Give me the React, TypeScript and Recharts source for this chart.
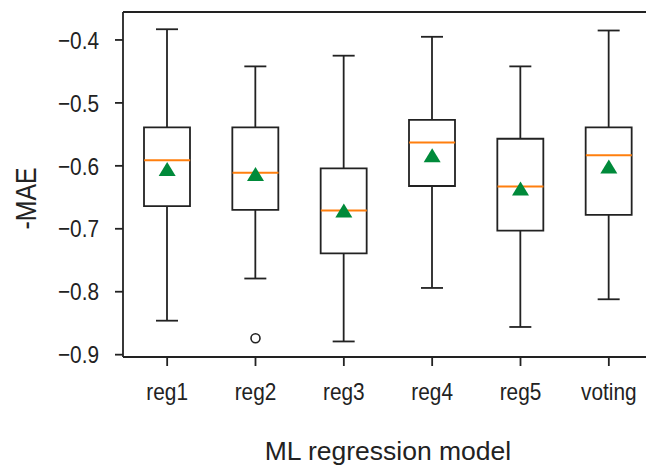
import { Bar, ComposedChart, ReferenceLine, Scatter, XAxis, YAxis } from "recharts";

const categories = ["reg1", "reg2", "reg3", "reg4", "reg5", "voting"];
const whiskerLow = [-0.846, -0.779, -0.879, -0.794, -0.856, -0.812];
const q1 = [-0.664, -0.67, -0.739, -0.632, -0.703, -0.678];
const medians = [-0.591, -0.611, -0.671, -0.563, -0.633, -0.583];
const q3 = [-0.539, -0.539, -0.604, -0.527, -0.557, -0.539];
const whiskerHigh = [-0.383, -0.442, -0.425, -0.395, -0.442, -0.385];
const means = [-0.605, -0.613, -0.671, -0.583, -0.636, -0.601];
const outliers: (number | null)[] = [null, -0.874, null, null, null, null];
const yTicks = [-0.9, -0.8, -0.7, -0.6, -0.5, -0.4];

const data = categories.map((name, i) => ({
  name,
  whisker: [whiskerLow[i], whiskerHigh[i]],
  box: [q1[i], q3[i]],
  median: medians[i],
  mean: means[i],
  outlier: outliers[i],
}));

const INK = "#222";
const SANS = "'Liberation Sans', Arial, sans-serif";
// the source figure's text is horizontally squeezed
const SQUEEZE = 0.85;

function Whisker(props: any) {
  const { x, y, width, height } = props;
  const cx = x + width / 2;
  return (
    <g stroke={INK} strokeWidth={1.8}>
      <line x1={cx} x2={cx} y1={y} y2={y + height} />
      <line x1={x} x2={x + width} y1={y} y2={y} />
      <line x1={x} x2={x + width} y1={y + height} y2={y + height} />
    </g>
  );
}

function MedianLine(props: any) {
  const { cx, cy } = props;
  return <line x1={cx - 23} x2={cx + 23} y1={cy} y2={cy} stroke="#ff7f0e" strokeWidth={2} />;
}

function MeanMarker(props: any) {
  const { cx, cy } = props;
  return <polygon points={`${cx},${cy - 7} ${cx - 8.5},${cy + 7} ${cx + 8.5},${cy + 7}`} fill="#008a3a" />;
}

function OutlierMarker(props: any) {
  const { cx, cy, payload } = props;
  if (payload?.outlier == null || !Number.isFinite(cy)) return <g />;
  return <circle cx={cx} cy={cy} r={4.5} fill="#fff" stroke={INK} strokeWidth={1.6} />;
}

function XTick(props: any) {
  const { x, y, payload } = props;
  return (
    <text
      transform={`translate(${x},${y}) scale(${SQUEEZE},1)`}
      textAnchor="middle"
      dy="0.71em"
      fontSize={24.5}
      fontFamily={SANS}
      fill={INK}
    >
      {payload.value}
    </text>
  );
}

function YTick(props: any) {
  const { x, y, payload } = props;
  return (
    <text
      transform={`translate(${x},${y}) scale(${SQUEEZE},1)`}
      textAnchor="end"
      dy="0.355em"
      fontSize={24.5}
      fontFamily={SANS}
      fill={INK}
    >
      {payload.value.toFixed(1).replace("-", "\u2212")}
    </text>
  );
}

function YLabel(props: any) {
  const { viewBox } = props;
  const x = viewBox.x + 26;
  const y = viewBox.y + viewBox.height / 2 + 14;
  return (
    <text
      transform={`translate(${x},${y}) rotate(-90) scale(0.83,1)`}
      textAnchor="middle"
      dominantBaseline="central"
      fontSize={30}
      fontFamily={SANS}
      fill={INK}
    >
      -MAE
    </text>
  );
}

export default function App() {
  return (
    <div style={{ position: "absolute", left: 0, top: 0, width: 646, height: 467, overflow: "hidden", background: "#fff" }}>
      <ComposedChart
        width={660}
        height={467}
        data={data}
        margin={{ top: 12, right: 7, left: 0, bottom: 0 }}
        style={{ fontFamily: SANS }}
      >
        <XAxis
          xAxisId="main"
          dataKey="name"
          height={110}
          tickSize={9}
          tickMargin={17}
          axisLine={{ stroke: INK, strokeWidth: 1.8 }}
          tickLine={{ stroke: INK, strokeWidth: 1.8 }}
          tick={<XTick />}
          interval={0}
          label={{ value: "ML regression model", position: "insideBottom", offset: 7, fontSize: 26.5, fill: INK, fontFamily: SANS }}
        />
        <XAxis xAxisId="whisk" dataKey="name" hide />
        <YAxis
          type="number"
          width={123}
          domain={[-0.9037, -0.3556]}
          ticks={yTicks}
          allowDataOverflow
          tickSize={8}
          tickMargin={16}
          axisLine={{ stroke: INK, strokeWidth: 1.8 }}
          tickLine={{ stroke: INK, strokeWidth: 1.8 }}
          tick={<YTick />}
          label={<YLabel />}
        />
        <ReferenceLine xAxisId="main" y={-0.3556} stroke={INK} strokeWidth={1.8} />
        <Bar xAxisId="whisk" dataKey="whisker" barSize={22} shape={<Whisker />} isAnimationActive={false} />
        <Bar xAxisId="main" dataKey="box" barSize={46} fill="#fff" stroke={INK} strokeWidth={1.8} isAnimationActive={false} />
        <Scatter xAxisId="main" dataKey="median" shape={<MedianLine />} isAnimationActive={false} />
        <Scatter xAxisId="main" dataKey="mean" shape={<MeanMarker />} isAnimationActive={false} />
        <Scatter xAxisId="main" dataKey="outlier" shape={<OutlierMarker />} isAnimationActive={false} />
      </ComposedChart>
    </div>
  );
}
